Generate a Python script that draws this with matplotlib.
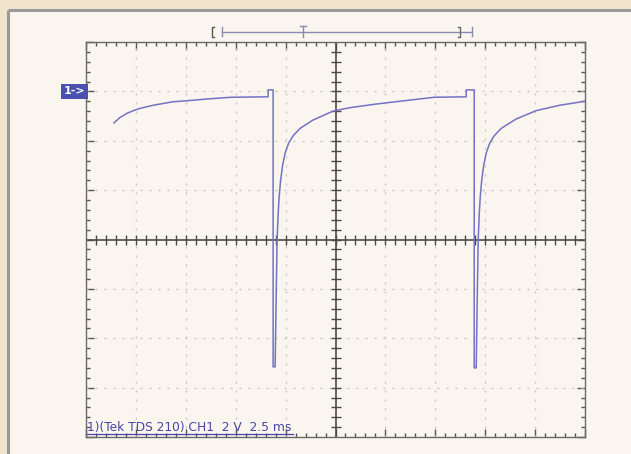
import matplotlib
matplotlib.use("Agg")
import matplotlib.pyplot as plt
import numpy as np
from matplotlib.patches import Rectangle

# ---- data (screen divisions: x 0..10, y -4..4) ----
trace_x = [0.56, 0.68, 0.82, 0.95, 1.08, 1.35, 1.75, 2.02, 2.42, 2.89, 3.65, 3.65, 3.75, 3.75,
           3.79, 3.81, 3.83, 3.85, 3.87, 3.90, 3.94, 3.99, 4.06, 4.15, 4.29, 4.55, 4.95, 5.29,
           5.79, 6.29, 6.97, 7.62, 7.62, 7.78, 7.78,
           7.82, 7.84, 7.86, 7.88, 7.90, 7.93, 7.97, 8.02, 8.09, 8.18, 8.32, 8.62, 9.02,
           9.50, 10.0]
trace_y = [2.36, 2.47, 2.555, 2.61, 2.655, 2.72, 2.79, 2.81, 2.845, 2.88, 2.89, 3.03, 3.03, -2.58,
           -2.58, -1.22, 0.00, 0.50, 0.85, 1.20, 1.50, 1.75, 1.95, 2.10, 2.25, 2.42, 2.60, 2.67,
           2.74, 2.80, 2.88, 2.89, 3.03, 3.03, -2.60,
           -2.60, -1.22, 0.00, 0.50, 0.85, 1.20, 1.50, 1.75, 1.95, 2.10, 2.25, 2.44, 2.61,
           2.72, 2.80]
ground_level = 3.0
trig_bracket = [2.53, 2.73, 4.35, 7.50, 7.74]   # [  |  T  ]  |
status_text = "1)(Tek TDS 210) CH1  2 V  2.5 ms"
marker_text = "1->"

W, H = 631, 454
fig = plt.figure(figsize=(W/100, H/100), dpi=100)
fig.patch.set_facecolor("#f0e4cd")

# inner panel with gray top/left border
bg = fig.add_axes([0, 0, 1, 1])
bg.set_xlim(0, W); bg.set_ylim(H, 0); bg.axis("off")
bg.add_patch(Rectangle((8, 10), W - 8, H - 10, facecolor="#faf5ef", edgecolor="none"))
bg.plot([8, 8], [10, H], color="#9a9a9a", lw=2.2, solid_capstyle="butt")
bg.plot([8, W], [10, 10], color="#9a9a9a", lw=2.2, solid_capstyle="butt")

x0, x1, y0, y1 = 86, 585, 42, 437
ax = fig.add_axes([x0/W, 1 - y1/H, (x1 - x0)/W, (y1 - y0)/H])
ax.set_xlim(0, 10); ax.set_ylim(-4, 4)
ax.patch.set_alpha(0)
for s in ax.spines.values():
    s.set_color("#6a6a6a"); s.set_linewidth(1.0)
ax.set_xticks(np.arange(0, 11, 1))
ax.set_yticks(np.arange(-4, 5, 1))
ax.set_xticks(np.arange(0, 10.01, 0.2), minor=True)
ax.set_yticks(np.arange(-4, 4.01, 0.2), minor=True)
ax.tick_params(which="both", direction="in", top=True, right=True,
               labelbottom=False, labelleft=False, color="#555555", width=1.0)
ax.tick_params(which="major", length=6)
ax.tick_params(which="minor", length=3)

# dotted graticule
gcol = "#c8c3bb"
for gx in range(1, 10):
    if gx != 5:
        ax.axvline(gx, color=gcol, lw=0.9, ls=(0, (1.6, 5.6)))
for gy in range(-3, 4):
    if gy != 0:
        ax.axhline(gy, color=gcol, lw=0.9, ls=(0, (1.6, 5.6)))

# centre cross with ticks
ax.axvline(5, color="#4a4a4a", lw=1.2)
ax.axhline(0, color="#4a4a4a", lw=1.2)
tx = np.arange(0.2, 10, 0.2)
ty = np.arange(-3.8, 4, 0.2)
ax.plot(tx, np.zeros_like(tx), ls="none", marker="|", ms=7, mew=1.0, color="#4a4a4a")
ax.plot(np.full_like(ty, 5.0), ty, ls="none", marker="_", ms=7, mew=1.0, color="#4a4a4a")

# trace
ax.plot(trace_x, trace_y, color="#7373c2", lw=1.1, solid_joinstyle="round", zorder=5)

# trigger / record indicator above the graticule
tc = "#8a8ab0"
yb = 4.21
ax.plot([trig_bracket[1], trig_bracket[4]], [yb, yb], color=tc, lw=1.0, clip_on=False)
ax.plot([trig_bracket[0]+0.04, trig_bracket[0], trig_bracket[0], trig_bracket[0]+0.04],
        [4.31, 4.31, 4.10, 4.10], color="#555555", lw=1.0, clip_on=False)
for xv in (trig_bracket[1], trig_bracket[4]):
    ax.plot([xv, xv], [4.12, 4.30], color=tc, lw=1.0, clip_on=False)
ax.plot([trig_bracket[2], trig_bracket[2]], [4.10, 4.32], color=tc, lw=1.0, clip_on=False)
ax.plot([trig_bracket[2]-0.06, trig_bracket[2]+0.06], [4.32, 4.32], color=tc, lw=1.0, clip_on=False)
ax.plot([trig_bracket[3]-0.04, trig_bracket[3], trig_bracket[3], trig_bracket[3]-0.04],
        [4.31, 4.31, 4.10, 4.10], color="#666666", lw=1.0, clip_on=False)

# channel ground marker
ax.text(-0.02, ground_level, marker_text, ha="right", va="center", color="white",
        fontsize=8, fontweight="bold", clip_on=False,
        bbox=dict(boxstyle="square,pad=0.25", facecolor="#4b4fae", edgecolor="none"))

# status line
ax.text(0.02, -3.93, status_text, ha="left", va="bottom", color="#4646a6",
        fontsize=8.8, clip_on=False)
ax.plot([0.02, 4.15], [-3.945, -3.945], color="#4646a6", lw=0.9)

fig.savefig("out.png", dpi=100, facecolor=fig.get_facecolor())
